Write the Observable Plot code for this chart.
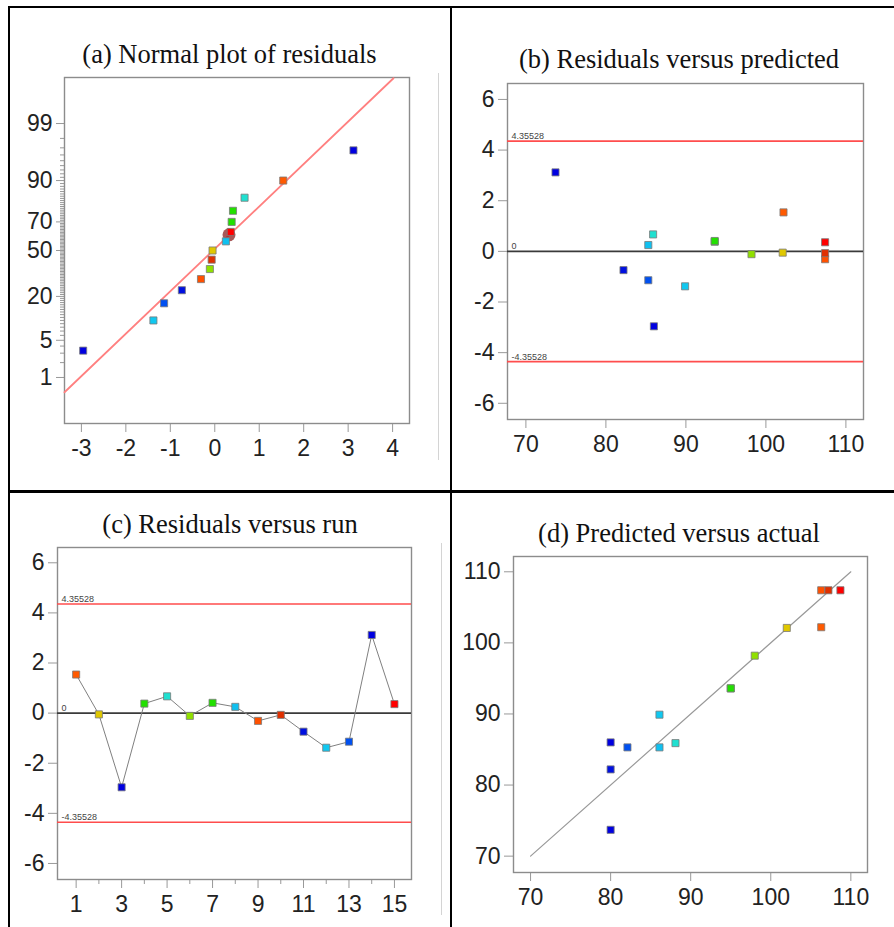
<!DOCTYPE html>
<html><head><meta charset="utf-8">
<script src="https://cdn.jsdelivr.net/npm/d3@7"></script>
<script src="https://cdn.jsdelivr.net/npm/@observablehq/plot@0.6"></script>
<style>
html,body{margin:0;padding:0;background:#fff;}
#fig{position:relative;width:894px;height:927px;overflow:hidden;background:#fff;}
.title{position:absolute;font-family:"Liberation Serif","Times New Roman",serif;font-size:26.5px;color:#111;white-space:nowrap;line-height:1;}
.rule{position:absolute;background:#000;z-index:5;}
.faint{position:absolute;background:#d4d4d4;width:1px;z-index:4;}
</style></head><body><div id="fig"></div>
<script>
// ---------------- data ----------------
const runs       = [1, 2, 3, 4, 5, 6, 7, 8, 9, 10, 11, 12, 13, 14, 15];
const residuals  = [1.54, -0.05, -2.96, 0.38, 0.67, -0.11, 0.41, 0.25, -0.31, -0.07, -0.74, -1.38, -1.14, 3.12, 0.36];
const predicted  = [102.2, 102.1, 86.0, 93.6, 85.9, 98.2, 93.6, 85.3, 107.4, 107.4, 82.2, 89.9, 85.3, 73.7, 107.4];
const actual     = [106.3, 102.0, 80.0, 95.0, 88.1, 98.0, 95.0, 86.1, 106.3, 107.2, 80.0, 86.1, 82.1, 80.0, 108.7];
const normalPct  = [90, 50, 3.33, 70, 83.33, 36.67, 76.67, 56.67, 30, 43.33, 23.33, 10, 16.67, 96.67, 63.33];
const colors     = ["#ff5a00", "#e0c800", "#0000e0", "#22e000", "#20e0d0", "#90e000", "#22e000", "#10c0f0",
                    "#ff5000", "#e03000", "#0010e0", "#10c8f0", "#0050f0", "#0000e0", "#ff0000"];
const limitValues = [4.35528, 0, -4.35528];
const limitLabels = ["4.35528", "0", "-4.35528"];
const normalLineX   = [-3.38, 4.02];
const normalLinePct = [0.47, 99.92];
const highlightX   = [0.32];
const highlightPct = [61.3];
const diagX = [70, 110];
const diagY = [70, 110];
const pctTicks = [1, 5, 20, 50, 70, 90, 99];
const residTicks = [-6, -4, -2, 0, 2, 4, 6];
const normXTicks = [-3, -2, -1, 0, 1, 2, 3, 4];
const predTicks = [70, 80, 90, 100, 110];
const runMajor = [1, 3, 5, 7, 9, 11, 13, 15];
const runMinor = [2, 4, 6, 8, 10, 12, 14];
const titles = ["(a) Normal plot of residuals", "(b) Residuals versus predicted",
                "(c) Residuals versus run", "(d) Predicted versus actual"];

// ---------------- helpers ----------------
function probit(p) {
  const q = p < 0.5 ? p : 1 - p;
  const t = Math.sqrt(-2 * Math.log(q));
  const z = t - (2.515517 + 0.802853 * t + 0.010328 * t * t) /
                (1 + 1.432788 * t + 0.189269 * t * t + 0.001308 * t * t * t);
  return p < 0.5 ? -z : z;
}
const rows = runs.map((r, i) => ({
  run: r, res: residuals[i], pred: predicted[i], act: actual[i],
  z: probit(normalPct[i] / 100), color: colors[i]
}));
const normalLine = normalLineX.map((x, i) => ({x, z: probit(normalLinePct[i] / 100)}));
const highlight = highlightX.map((x, i) => ({x, z: probit(highlightPct[i] / 100)}));
const diag = diagX.map((x, i) => ({x, y: diagY[i]}));
const limits = limitValues.map((v, i) => ({v, label: limitLabels[i]}));
const majorZ = pctTicks.map(p => probit(p / 100));
const zLabel = new Map(majorZ.map((z, i) => [z, String(pctTicks[i])]));
const minorZ = d3.range(1, 100).filter(p => !pctTicks.includes(p)).map(p => probit(p / 100));

const fig = document.getElementById("fig");
const SANS = "'Liberation Sans', Arial, Helvetica, sans-serif";
const ML = 60, MT = 12, MR = 26, MB = 52;

function panel(frame, opts) {
  const [l, t, r, b] = frame;
  const svg = Plot.plot({
    width: r - l + ML + MR, height: b - t + MT + MB,
    marginLeft: ML, marginTop: MT, marginRight: MR, marginBottom: MB,
    style: {background: "transparent", overflow: "visible", fontFamily: SANS, color: "#222", maxWidth: "none"},
    color: {type: "identity"},
    ...opts
  });
  svg.style.position = "absolute";
  svg.style.left = (l - ML) + "px";
  svg.style.top = (t - MT) + "px";
  fig.appendChild(svg);
}
const axisText = {fontSize: 23, stroke: "#999", fill: "#222", label: null, tickFormat: d => String(d)};
const frameMark = () => Plot.frame({stroke: "#8c8c8c", strokeWidth: 1.4});
const squares = (x, y) => Plot.dot(rows, {x, y, symbol: "square", r: 4, fill: "color", stroke: "#7a7a7a", strokeWidth: 0.8});
const limitMarks = () => [
  Plot.ruleY(limits.filter(d => d.v !== 0), {y: "v", stroke: "#ff4d4d", strokeWidth: 1.7}),
  Plot.ruleY(limits.filter(d => d.v === 0), {y: "v", stroke: "#3a3a3a", strokeWidth: 1.6}),
  Plot.text(limits, {y: "v", text: "label", frameAnchor: "left", dx: 4, dy: -2, textAnchor: "start",
                     lineAnchor: "bottom", fontSize: 9, fill: "#444"})
];

// (a) normal plot
panel([64, 77, 409, 423], {
  x: {domain: [-3.38, 4.38], label: null},
  y: {domain: [-3.17, 3.17], label: null},
  marks: [
    Plot.axisX({...axisText, ticks: normXTicks, tickSize: 9, tickPadding: 7}),
    Plot.axisY({...axisText, ticks: majorZ, tickSize: 8, tickPadding: 4, tickFormat: z => zLabel.get(z)}),
    Plot.axisY({ticks: minorZ, tickSize: 4, stroke: "#999", tickFormat: () => "", label: null}),
    frameMark(),
    Plot.line(normalLine, {x: "x", y: "z", stroke: "#ff8080", strokeWidth: 1.8}),
    Plot.dot(highlight, {x: "x", y: "z", r: 6.5, fill: "#8b2020", fillOpacity: 0.75}),
    squares("res", "z")
  ]
});

// (b) residuals vs predicted
panel([507, 83, 863, 419], {
  x: {domain: [67.7, 112.2], label: null},
  y: {domain: [-6.64, 6.63], label: null},
  marks: [
    Plot.axisX({...axisText, ticks: predTicks, tickSize: 9, tickPadding: 7}),
    Plot.axisY({...axisText, ticks: residTicks, tickSize: 9, tickPadding: 4}),
    frameMark(),
    ...limitMarks(),
    squares("pred", "res")
  ]
});

// (c) residuals vs run
panel([57, 547, 411, 879], {
  x: {domain: [0.18, 15.75], label: null},
  y: {domain: [-6.64, 6.61], label: null},
  marks: [
    Plot.axisX({...axisText, ticks: runMajor, tickSize: 9, tickPadding: 7}),
    Plot.axisX({ticks: runMinor, tickSize: 5, stroke: "#999", tickFormat: () => "", label: null}),
    Plot.axisY({...axisText, ticks: residTicks, tickSize: 9, tickPadding: 4}),
    frameMark(),
    ...limitMarks(),
    Plot.line(rows, {x: "run", y: "res", stroke: "#808080", strokeWidth: 1}),
    squares("run", "res")
  ]
});

// (d) predicted vs actual
panel([513, 556, 867, 872], {
  x: {domain: [67.87, 112.08], label: null},
  y: {domain: [67.7, 112.15], label: null},
  marks: [
    Plot.axisX({...axisText, ticks: predTicks, tickSize: 9, tickPadding: 7}),
    Plot.axisY({...axisText, ticks: predTicks, tickSize: 9, tickPadding: 4}),
    frameMark(),
    Plot.line(diag, {x: "x", y: "y", stroke: "#999", strokeWidth: 1.2}),
    squares("act", "pred")
  ]
});

// titles (centre x, baseline y)
const titlePos = [[229.5, 62.7], [679, 68.3], [230, 533.3], [679, 541.7]];
titles.forEach((txt, i) => {
  const d = document.createElement("div");
  d.className = "title";
  d.textContent = txt;
  fig.appendChild(d);
  const fs = 26.5;
  d.style.top = (titlePos[i][1] - 0.8375 * fs) + "px";
  d.style.left = (titlePos[i][0] - d.getBoundingClientRect().width / 2) + "px";
});

// table borders
[[8, 6, 886, 2], [8, 6, 2, 921], [450, 6, 2, 921], [8, 490, 886, 3]].forEach(([x, y, w, h]) => {
  const d = document.createElement("div");
  d.className = "rule";
  Object.assign(d.style, {left: x + "px", top: y + "px", width: w + "px", height: h + "px"});
  fig.appendChild(d);
});
[[438, 73, 387], [441, 543, 372]].forEach(([x, y, h]) => {
  const d = document.createElement("div");
  d.className = "faint";
  Object.assign(d.style, {left: x + "px", top: y + "px", height: h + "px"});
  fig.appendChild(d);
});
</script></body></html>
